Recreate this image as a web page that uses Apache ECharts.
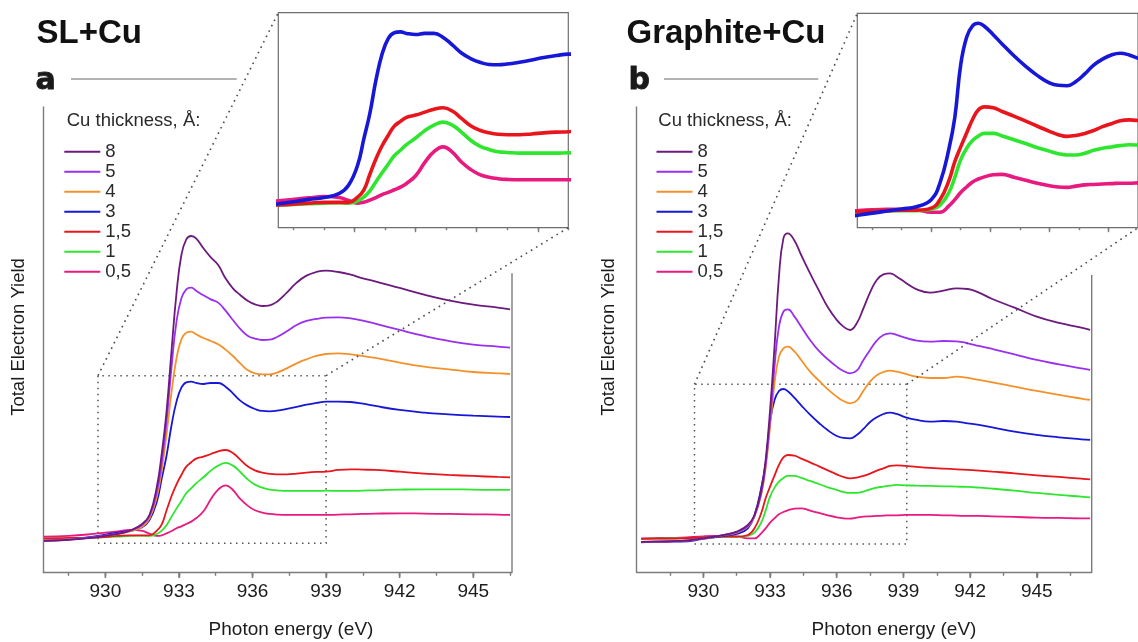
<!DOCTYPE html>
<html><head><meta charset="utf-8">
<script src="https://cdn.jsdelivr.net/npm/echarts@6/dist/echarts.min.js"></script>
<style>html,body{margin:0;padding:0;background:#fff}#c{width:1138px;height:642px}</style>
</head><body><div id="c"></div>
<script>
// ---------- DATA (TEY, arbitrary units) ----------
const thicknesses = ['8', '5', '4', '3', '1,5', '1', '0,5'];

const energyA = [927.5, 928.5, 929.5, 930.5, 931.0, 931.5, 931.8, 932.1, 932.3, 932.5, 932.7, 932.9, 933.1, 933.3, 933.5, 933.7, 934.0, 934.3, 934.6, 934.9, 935.2, 935.5, 935.8, 936.1, 936.4, 936.7, 937.0, 937.4, 937.8, 938.2, 938.6, 939.0, 939.5, 940.0, 940.5, 941, 942, 943, 944, 945, 946, 946.5];
const slCu8  = [37, 40, 47, 58, 68, 88, 115, 200, 300, 430, 610, 780, 895, 942, 952, 945, 915, 888, 865, 825, 795, 775, 758, 747, 742, 744, 755, 782, 812, 833, 844, 848, 844, 836, 825, 816, 796, 776, 759, 746, 737, 732];
const slCu5  = [38, 41, 48, 59, 68, 85, 112, 185, 275, 400, 560, 695, 765, 792, 797, 788, 774, 762, 752, 728, 700, 673, 653, 644, 640, 641, 649, 666, 685, 697, 703, 707, 708, 705, 698, 689, 670, 652, 637, 626, 620, 617];
const slCu4  = [39, 42, 48, 58, 66, 80, 105, 170, 250, 360, 485, 585, 642, 662, 665, 657, 646, 637, 627, 611, 592, 570, 550, 540, 537, 537, 542, 555, 570, 582, 592, 598, 600, 597, 592, 586, 572, 560, 552, 544, 540, 538];
const slCu3  = [38, 42, 50, 62, 67, 78, 100, 155, 225, 295, 385, 455, 497, 513, 515, 511, 508, 511, 511, 500, 480, 458, 443, 433, 427, 426, 428, 433, 439, 446, 451, 455, 455, 454, 449, 442, 430, 422, 417, 413, 410, 409];
const slCu15 = [45, 46, 47, 52, 54, 54, 54, 68, 87, 130, 172, 207, 235, 260, 273, 284, 290, 298, 306, 310, 301, 281, 261, 249, 242, 238, 237, 237, 239, 242, 244, 245, 250, 252, 251, 250, 245, 239, 235, 232, 229, 228];
const slCu1  = [44, 45, 47, 50, 52, 53, 52, 58, 68, 85, 110, 134, 157, 180, 195, 210, 228, 248, 263, 271, 263, 244, 222, 206, 197, 191, 189, 187, 187, 187, 187, 188, 187, 187, 188, 189, 191, 192, 192, 191, 190, 190];
const slCu05 = [50, 52, 58, 66, 70, 67, 59, 52, 54, 60, 67, 75, 81, 88, 95, 105, 126, 162, 191, 204, 190, 163, 143, 129, 122, 118, 116, 115, 115, 115, 115, 115, 116, 117, 118, 119, 120, 119, 118, 117, 116, 115];

const energyB = [927.2, 928, 929, 930, 930.5, 931, 931.5, 932, 932.3, 932.6, 932.8, 933.0, 933.2, 933.4, 933.6, 933.8, 934.1, 934.4, 934.8, 935.2, 935.6, 936.0, 936.3, 936.6, 936.9, 937.2, 937.5, 937.8, 938.1, 938.4, 938.7, 939.1, 939.6, 940.2, 940.8, 941.4, 941.9, 942.4, 943, 944, 945, 946, 947, 947.4];
const grCu8  = [34, 35, 37, 45, 50, 56, 65, 85, 115, 190, 280, 430, 620, 830, 945, 960, 938, 895, 840, 788, 738, 700, 680, 670, 690, 735, 783, 820, 837, 840, 830, 812, 792, 782, 788, 795, 793, 782, 763, 737, 710, 691, 677, 670];
const grCu5  = [34, 35, 37, 45, 50, 56, 64, 82, 112, 180, 265, 400, 560, 680, 725, 732, 710, 680, 640, 607, 582, 560, 547, 540, 548, 580, 610, 638, 655, 660, 655, 646, 638, 635, 637, 636, 630, 622, 613, 597, 580, 567, 555, 550];
const grCu4  = [34, 35, 37, 44, 49, 55, 62, 80, 110, 175, 255, 380, 510, 590, 615, 620, 605, 580, 545, 518, 492, 470, 457, 450, 458, 488, 515, 534, 544, 548, 545, 538, 530, 526, 526, 530, 526, 520, 513, 500, 487, 475, 464, 460];
const grCu3  = [33, 35, 35, 43, 48, 53, 58, 75, 115, 195, 270, 395, 460, 487, 493, 486, 466, 444, 416, 391, 369, 352, 346, 345, 355, 373, 394, 408, 418, 422, 418, 408, 400, 395, 397, 395, 390, 385, 378, 365, 355, 348, 342, 340];
const grCu15 = [43, 44, 45, 48, 49, 50, 50, 55, 75, 120, 165, 200, 233, 265, 288, 295, 293, 284, 273, 261, 249, 237, 229, 225, 227, 232, 239, 248, 255, 262, 264, 262, 259, 256, 254, 252, 250, 248, 245, 240, 234, 229, 224, 222];
const grCu1  = [43, 44, 45, 47, 48, 49, 49, 52, 62, 92, 128, 170, 197, 215, 226, 232, 232, 226, 217, 208, 198, 190, 184, 181, 181, 185, 192, 197, 200, 203, 205, 204, 203, 202, 201, 200, 199, 197, 194, 188, 181, 175, 170, 168];
const grCu05 = [45, 46, 47, 51, 52, 52, 51, 45, 45, 60, 75, 92, 105, 117, 124, 129, 134, 135, 128, 121, 114, 108, 105, 104, 107, 110, 111, 112, 113, 114, 114, 115, 115, 115, 114, 113, 112, 112, 111, 109, 107, 106, 105, 105];

const majorTicks = [930, 933, 936, 939, 942, 945];
const allTicks = [928.5, 930, 931.5, 933, 934.5, 936, 937.5, 939, 940.5, 942, 943.5, 945, 946.5];
const insetTicks = [930, 931, 932, 933, 934, 935, 936, 937, 938, 939];
const insetMajorTicks = [932, 934, 936, 938];

// zoom windows (data units): [xmin, xmax, ymin, ymax]
const zoomBoxA = [929.7, 939.0, 30, 533];
const zoomBoxB = [929.6, 939.15, 28, 507];

// ---------- STYLE ----------
const colors = ['#6c1a7e', '#9a30ef', '#f3922a', '#1717d8', '#e8161c', '#2fe62f', '#e8197f'];
const FONT = '"Liberation Sans", Arial, Helvetica, sans-serif';
const AX = '#7c7c7c';
const TXT = '#1c1c1c';

const slSets = [slCu8, slCu5, slCu4, slCu3, slCu15, slCu1, slCu05];
const grSets = [grCu8, grCu5, grCu4, grCu3, grCu15, grCu1, grCu05];
const pairs = (xs, ys) => xs.map((x, i) => [x, ys[i]]);

const chart = echarts.init(document.getElementById('c'), null, {renderer: 'canvas'});

function tickAxis(grid, min, max, values, len) {
  return {gridIndex: grid, type: 'value', min, max, position: 'bottom',
    axisLine: {show: false, onZero: false},
    axisTick: {show: true, customValues: values, length: len, lineStyle: {color: AX, width: 1.4}},
    axisLabel: {show: false}, splitLine: {show: false}};
}
function mainX(grid, min, max) {
  return [
    {gridIndex: grid, type: 'value', min, max, position: 'bottom',
     axisLine: {show: true, onZero: false, lineStyle: {color: AX, width: 1.4}},
     axisTick: {show: false},
     axisLabel: {show: true, customValues: majorTicks, margin: 10, fontSize: 19, color: TXT, fontFamily: FONT},
     splitLine: {show: false}},
    tickAxis(grid, min, max, majorTicks, 5.5),
    tickAxis(grid, min, max, allTicks, 3.5)
  ];
}
function insetX(grid) {
  return [tickAxis(grid, 929.5, 939, insetMajorTicks, 4.5), tickAxis(grid, 929.5, 939, insetTicks, 2.5)];
}
const mainY = (grid) => ({gridIndex: grid, type: 'value', min: -57, max: 1339,
  axisLine: {show: true, onZero: false, lineStyle: {color: AX, width: 1.4}},
  axisTick: {show: false}, axisLabel: {show: false}, splitLine: {show: false}});

// axis indices
const XA = 0, XB = 3, XIA = 6, XIB = 8;

const series = [];
function addMain(sets, energy, xi, yi, box) {
  for (let i = thicknesses.length - 1; i >= 0; i--) {
    const s = {type: 'line', name: thicknesses[i], xAxisIndex: xi, yAxisIndex: yi,
      data: pairs(energy, sets[i]), symbol: 'none', smooth: 0.45,
      color: colors[i], lineStyle: {width: 1.8, color: colors[i]}, silent: true, z: 3};
    if (i === thicknesses.length - 1) {
      s.markArea = {silent: true,
        itemStyle: {color: 'rgba(0,0,0,0)', borderColor: '#555', borderWidth: 1.5, borderType: [1.5, 4.5]},
        data: [[{xAxis: box[0], yAxis: box[2]}, {xAxis: box[1], yAxis: box[3]}]]};
    }
    series.push(s);
  }
}
function addInset(sets, energy, xi, yi) {
  for (let i = thicknesses.length - 1; i >= 3; i--) {
    series.push({type: 'line', name: thicknesses[i], xAxisIndex: xi, yAxisIndex: yi,
      data: pairs(energy, sets[i]), symbol: 'none', smooth: 0.45, clip: true,
      color: colors[i], lineStyle: {width: 3.6, color: colors[i]}, silent: true, z: 3});
  }
}
addMain(slSets, energyA, XA, 0, zoomBoxA);
addMain(grSets, energyB, XB, 1, zoomBoxB);
addInset(slSets, energyA, XIA, 2);
addInset(grSets, energyB, XIB, 3);

const legendBase = {orient: 'vertical', top: 141.7, padding: 0, data: thicknesses, icon: 'rect',
  itemWidth: 36, itemHeight: 2, itemGap: 0, selectedMode: false,
  textStyle: {fontSize: 18.5, lineHeight: 20, color: '#2a2a2a', fontFamily: FONT}};

const option = {
  animation: false,
  backgroundColor: '#fff',
  grid: [
    {left: 43.3, right: 626, top: 107, bottom: 69.7},
    {left: 636.7, right: 46.3, top: 107, bottom: 69.7},
    {left: 278.3, right: 569.7, top: 12.7, bottom: 414.3, show: true, borderColor: '#6e6e6e', borderWidth: 1.2, backgroundColor: '#fff'},
    {left: 857.3, right: -9.3, top: 13.3, bottom: 414.3, show: true, borderColor: '#6e6e6e', borderWidth: 1.2, backgroundColor: '#fff'}
  ],
  xAxis: [...mainX(0, 927.47, 946.58), ...mainX(1, 927.0, 947.47), ...insetX(2), ...insetX(3)],
  yAxis: [mainY(0), mainY(1),
    {gridIndex: 2, type: 'value', min: -14.6, max: 567, show: false},
    {gridIndex: 3, type: 'value', min: 8.5, max: 516.7, show: false}],
  legend: [Object.assign({left: 64.3}, legendBase), Object.assign({left: 656.5}, legendBase)],
  series
};
chart.setOption(option);

// ---------- decorations positioned from the axes ----------
const P = (xi, yi, pt) => chart.convertToPixel({xAxisIndex: xi, yAxisIndex: yi}, pt);
const dotted = {stroke: '#4a4a4a', lineWidth: 1.6, lineDash: [1.6, 4.4]};
function line(a, b, style) { return {type: 'line', shape: {x1: a[0], y1: a[1], x2: b[0], y2: b[1]}, style, silent: true, z: 10}; }
function text(x, y, str, font, extra) {
  return {type: 'text', x, y, silent: true, z: 10,
    style: Object.assign({text: str, font, fill: TXT, textAlign: 'left', textVerticalAlign: 'middle'}, extra || {})};
}
const els = [];
// connectors panel a
els.push(line(P(XA, 0, [zoomBoxA[0], zoomBoxA[3]]), P(XIA, 2, [929.5, 567]), dotted));
els.push(line(P(XA, 0, [zoomBoxA[1], zoomBoxA[3]]), P(XIA, 2, [939, -14.6]), dotted));
// connectors panel b
els.push(line(P(XB, 1, [zoomBoxB[0], zoomBoxB[3]]), P(XIB, 3, [929.5, 516.7]), dotted));
els.push(line(P(XB, 1, [zoomBoxB[1], zoomBoxB[3]]), P(XIB, 3, [939, 8.5]), dotted));
// right frame lines
const axisStyle = {stroke: AX, lineWidth: 1.4};
els.push(line(P(XA, 0, [946.58, 840]), P(XA, 0, [946.58, -57]), axisStyle));
els.push(line(P(XB, 1, [947.47, 835]), P(XB, 1, [947.47, -57]), axisStyle));
// major tick marks (reinforced) at labelled energies
[[XA, 0], [XB, 1]].forEach(([xi, yi]) => {
  majorTicks.forEach(v => {
    const p = P(xi, yi, [v, -57]);
    els.push(line([p[0], p[1]], [p[0], p[1] + 5.5], axisStyle));
  });
});
// header rules
els.push(line([71, 79], [236.7, 79], {stroke: '#666', lineWidth: 1.1}));
els.push(line([664, 79], [818.3, 79], {stroke: '#666', lineWidth: 1.1}));
// titles
els.push(text(36.5, 33.6, 'SL+Cu', 'bold 33px ' + FONT, {fill: '#111'}));
els.push(text(626.5, 33.6, 'Graphite+Cu', 'bold 33px ' + FONT, {fill: '#111'}));
els.push(text(35.5, 81.5, 'a', 'bold 30px "DejaVu Sans", ' + FONT, {fill: '#1a1a1a', stroke: '#1a1a1a', lineWidth: 0.8}));
els.push(text(628.5, 81.5, 'b', 'bold 30px "DejaVu Sans", ' + FONT, {fill: '#1a1a1a', stroke: '#1a1a1a', lineWidth: 0.8}));
// legend headers
els.push(text(66.7, 120.9, 'Cu thickness, Å:', '18.5px ' + FONT, {fill: '#2a2a2a'}));
els.push(text(658.3, 120.9, 'Cu thickness, Å:', '18.5px ' + FONT, {fill: '#2a2a2a'}));
// axis titles
els.push(text(291, 629.4, 'Photon energy (eV)', '19px ' + FONT, {textAlign: 'center'}));
els.push(text(894, 629.4, 'Photon energy (eV)', '19px ' + FONT, {textAlign: 'center'}));
els.push(Object.assign(text(18.5, 337, 'Total Electron Yield', '18.5px ' + FONT, {textAlign: 'center'}), {rotation: Math.PI / 2}));
els.push(Object.assign(text(608.5, 337, 'Total Electron Yield', '18.5px ' + FONT, {textAlign: 'center'}), {rotation: Math.PI / 2}));

chart.setOption({graphic: {elements: els}});
</script></body></html>
